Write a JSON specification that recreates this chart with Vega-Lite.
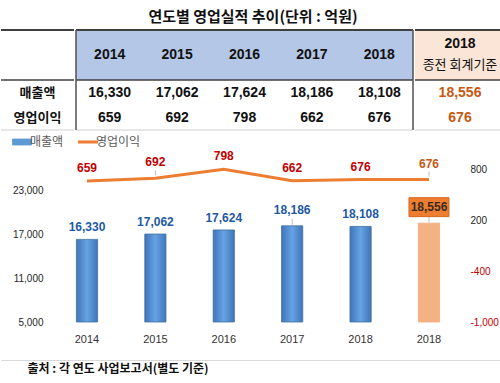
{
  "$schema": "https://vega.github.io/schema/vega-lite/v6.json",
  "background": "white",
  "padding": {"left": 0, "right": 0, "top": 10, "bottom": 0},
  "config": {
    "view": {"stroke": null},
    "font": "Liberation Sans, Noto Sans CJK KR",
    "axis": {"grid": false, "labelFont": "Liberation Sans, Noto Sans CJK KR"}
  },
  "title": {"text": "연도별 영업실적 추이(단위 : 억원)", "font": "Noto Sans CJK KR", "fontSize": 15, "fontWeight": "bold", "color": "#111111", "anchor": "middle", "offset": 4},
  "datasets": {
    "perf": [
      {"cat": "2014", "sales": 16330, "op": 659},
      {"cat": "2015", "sales": 17062, "op": 692},
      {"cat": "2016", "sales": 17624, "op": 798},
      {"cat": "2017", "sales": 18186, "op": 662},
      {"cat": "2018", "sales": 18108, "op": 676},
      {"cat": "2018 종전", "sales": 18556, "op": 676}
    ],
    "rowLabels": [{"row": "r1", "label": "매출액"}, {"row": "r2", "label": "영업이익"}],
    "headerRows": [{"row": "h1"}, {"row": "h2"}],
    "one": [{"id": 1}]
  },
  "columns": 1,
  "align": "none",
  "spacing": 5,
  "resolve": {"legend": {"color": "independent"}},
  "concat": [
    {
      "spacing": 0,
      "hconcat": [
        {
          "width": 73, "height": 100,
          "layer": [
            {"data": {"name": "rowLabels"}, "mark": {"type": "text", "font": "Noto Sans CJK KR", "fontSize": 13, "fontWeight": "bold", "color": "#111111"},
             "encoding": {"y": {"field": "row", "type": "nominal", "scale": {"type": "band", "domain": ["h1", "h2", "r1", "r2"], "paddingInner": 0, "paddingOuter": 0}, "axis": null}, "text": {"field": "label"}}},
            {"data": {"name": "one"}, "mark": {"type": "rule", "color": "#404040", "strokeWidth": 2}, "encoding": {"y": {"datum": "h1", "type": "nominal", "bandPosition": 0}}},
            {"data": {"name": "one"}, "mark": {"type": "rule", "color": "#404040", "strokeWidth": 1.5}, "encoding": {"y": {"datum": "r1", "type": "nominal", "bandPosition": 0}}},
            {"data": {"name": "one"}, "mark": {"type": "rule", "color": "#d0d0d0", "strokeWidth": 1}, "encoding": {"y": {"datum": "r2", "type": "nominal", "bandPosition": 1}}}
          ]
        },
        {
          "width": 337, "height": 100,
          "layer": [
            {"data": {"name": "headerRows"}, "mark": {"type": "rect", "color": "#b4c7e7"},
             "encoding": {"y": {"field": "row", "type": "nominal", "scale": {"type": "band", "domain": ["h1", "h2", "r1", "r2"], "paddingInner": 0, "paddingOuter": 0}, "axis": null}}},
            {"data": {"name": "perf"}, "transform": [{"filter": "datum.cat !== '2018 종전'"}],
             "encoding": {"x": {"field": "cat", "type": "nominal", "scale": {"type": "band", "domain": ["2014", "2015", "2016", "2017", "2018"], "paddingInner": 0, "paddingOuter": 0}, "axis": null}},
             "layer": [
               {"mark": {"type": "text", "fontSize": 14, "fontWeight": "bold", "color": "#111111"}, "encoding": {"y": {"datum": "h1", "type": "nominal", "bandPosition": 1}, "text": {"field": "cat"}}},
               {"mark": {"type": "text", "fontSize": 14, "fontWeight": "bold", "color": "#111111"}, "encoding": {"y": {"datum": "r1", "type": "nominal", "bandPosition": 0.5}, "text": {"field": "sales", "format": ","}}},
               {"mark": {"type": "text", "fontSize": 14, "fontWeight": "bold", "color": "#111111"}, "encoding": {"y": {"datum": "r2", "type": "nominal", "bandPosition": 0.5}, "text": {"field": "op", "format": ","}}}
             ]},
            {"data": {"name": "one"}, "mark": {"type": "rule", "color": "#404040", "strokeWidth": 2}, "encoding": {"y": {"datum": "h1", "type": "nominal", "bandPosition": 0}}},
            {"data": {"name": "one"}, "mark": {"type": "rule", "color": "#404040", "strokeWidth": 1.5}, "encoding": {"y": {"datum": "r1", "type": "nominal", "bandPosition": 0}}},
            {"data": {"name": "one"}, "mark": {"type": "rule", "color": "#d0d0d0", "strokeWidth": 1}, "encoding": {"y": {"datum": "r2", "type": "nominal", "bandPosition": 1}}},
            {"data": {"name": "one"}, "mark": {"type": "rule", "color": "#505050", "strokeWidth": 1.5}, "encoding": {"x": {"datum": "2014", "type": "nominal", "bandPosition": 0}}},
            {"data": {"name": "one"}, "mark": {"type": "rule", "color": "#505050", "strokeWidth": 1.5}, "encoding": {"x": {"datum": "2018", "type": "nominal", "bandPosition": 1}}}
          ]
        },
        {
          "width": 90, "height": 100,
          "layer": [
            {"data": {"name": "headerRows"}, "mark": {"type": "rect", "color": "#fbe5d6"},
             "encoding": {"y": {"field": "row", "type": "nominal", "scale": {"type": "band", "domain": ["h1", "h2", "r1", "r2"], "paddingInner": 0, "paddingOuter": 0}, "axis": null}}},
            {"data": {"name": "perf"}, "transform": [{"filter": "datum.cat === '2018 종전'"}],
             "layer": [
               {"mark": {"type": "text", "fontSize": 14, "fontWeight": "bold", "color": "#111111", "yOffset": 1}, "encoding": {"y": {"datum": "h1", "type": "nominal", "bandPosition": 0.5}, "text": {"value": "2018"}}},
               {"mark": {"type": "text", "font": "Noto Sans CJK KR", "fontSize": 13, "fontWeight": "normal", "color": "#111111", "yOffset": -3}, "encoding": {"y": {"datum": "h2", "type": "nominal", "bandPosition": 0.5}, "text": {"value": "종전 회계기준"}}},
               {"mark": {"type": "text", "fontSize": 14, "fontWeight": "bold", "color": "#c55a11"}, "encoding": {"y": {"datum": "r1", "type": "nominal", "bandPosition": 0.5}, "text": {"field": "sales", "format": ","}}},
               {"mark": {"type": "text", "fontSize": 14, "fontWeight": "bold", "color": "#c55a11"}, "encoding": {"y": {"datum": "r2", "type": "nominal", "bandPosition": 0.5}, "text": {"field": "op", "format": ","}}}
             ]},
            {"data": {"name": "one"}, "mark": {"type": "rule", "color": "#404040", "strokeWidth": 2}, "encoding": {"y": {"datum": "h1", "type": "nominal", "bandPosition": 0}}},
            {"data": {"name": "one"}, "mark": {"type": "rule", "color": "#404040", "strokeWidth": 1.5}, "encoding": {"y": {"datum": "r1", "type": "nominal", "bandPosition": 0}}},
            {"data": {"name": "one"}, "mark": {"type": "rule", "color": "#d0d0d0", "strokeWidth": 1}, "encoding": {"y": {"datum": "r2", "type": "nominal", "bandPosition": 1}}}
          ]
        }
      ]
    },
    {
      "spacing": 9,
      "vconcat": [
        {
          "width": 500, "height": 175,
          "data": {"name": "perf"},
          "encoding": {
            "x": {"field": "cat", "type": "nominal",
                  "scale": {"domain": ["2014", "2015", "2016", "2017", "2018", "2018 종전"], "paddingInner": 0.69, "paddingOuter": 1.0395, "align": 0.551},
                  "axis": {"title": null, "labelExpr": "slice(datum.label, 0, 4)", "labelAngle": 0, "labelFontSize": 11, "labelColor": "#333333", "labelPadding": 11, "ticks": false, "domain": false, "minExtent": 28}}
          },
          "layer": [
            {
              "encoding": {
                "y": {"field": "sales", "type": "quantitative",
                      "scale": {"domain": [5000, 29000], "nice": false, "zero": false},
                      "axis": {"orient": "left", "offset": -54, "title": null, "values": [5000, 11000, 17000, 23000], "labelExpr": "format(datum.value, ',.0f')", "labelFontSize": 10, "labelColor": "#262626", "ticks": false, "domain": false, "grid": false, "labelPadding": 12}}
              },
              "layer": [
                {"data": {"name": "one"}, "mark": {"type": "rule", "color": "#d9d9d9", "strokeWidth": 1},
                 "encoding": {"y": {"datum": 5000}, "x": {"datum": "2014", "bandPosition": -1.31}, "x2": {"datum": "2018 종전", "bandPosition": 2.1}}},
                {"mark": {"type": "bar", "strokeWidth": 0.8},
                 "encoding": {
                   "y2": {"datum": 5000},
                   "fill": {"condition": {"test": "datum.cat === '2018 종전'", "value": "#f4b183"},
                            "value": {"gradient": "linear", "x1": 0, "x2": 1, "y1": 0, "y2": 0,
                                      "stops": [{"offset": 0, "color": "#3f76b9"}, {"offset": 0.5, "color": "#66a3e3"}, {"offset": 1, "color": "#3f76b9"}]}},
                   "stroke": {"condition": {"test": "datum.cat === '2018 종전'", "value": "#f0aa7a"}, "value": "#41719c"}
                 }},
                {"transform": [{"filter": "datum.cat === '2017' || datum.cat === '2018 종전'"}],
                 "mark": {"type": "rule", "color": "#bfbfbf", "strokeWidth": 1, "yOffset": -1, "y2Offset": -7},
                 "encoding": {"y2": {"field": "sales"}}},
                {"transform": [{"filter": "datum.cat === '2018 종전'"}],
                 "mark": {"type": "point", "shape": "M-1,-0.475H1V0.475H-1Z", "size": 1600, "filled": true, "color": "#ed7d31", "stroke": "#d5691f", "strokeWidth": 1, "opacity": 1, "yOffset": -16}},
                {"transform": [{"filter": "datum.cat !== '2017' && datum.cat !== '2018 종전'"}],
                 "mark": {"type": "text", "fontSize": 12, "fontWeight": "bold", "color": "#1e5aa0", "baseline": "middle", "yOffset": -12},
                 "encoding": {"text": {"field": "sales", "format": ","}}},
                {"transform": [{"filter": "datum.cat === '2017'"}],
                 "mark": {"type": "text", "fontSize": 12, "fontWeight": "bold", "color": "#1e5aa0", "baseline": "middle", "yOffset": -16},
                 "encoding": {"text": {"field": "sales", "format": ","}}},
                {"transform": [{"filter": "datum.cat === '2018 종전'"}],
                 "mark": {"type": "text", "fontSize": 12, "fontWeight": "bold", "color": "#3a2a1e", "baseline": "middle", "yOffset": -16},
                 "encoding": {"text": {"field": "sales", "format": ","}}}
              ]
            },
            {
              "encoding": {
                "y": {"field": "op", "type": "quantitative",
                      "scale": {"domain": [-1000, 1060], "nice": false, "zero": false},
                      "axis": {"orient": "right", "offset": -40, "title": null, "values": [-1000, -400, 200, 800], "labelExpr": "replace(format(datum.value, ',.0f'), '−', '-')", "labelFontSize": 10,
                               "labelColor": {"condition": {"test": "datum.value < 0", "value": "#c00000"}, "value": "#262626"},
                               "ticks": false, "domain": false, "grid": false, "labelPadding": 9}}
              },
              "layer": [
                {"mark": {"type": "line", "strokeWidth": 3},
                 "encoding": {
                   "color": {"datum": "영업이익", "type": "nominal",
                             "scale": {"domain": ["매출액", "영업이익"], "range": ["#5b9bd5", "#ed7d31"]},
                             "legend": {"title": null, "orient": "none", "legendX": 15, "legendY": -11, "direction": "horizontal", "padding": 0,
                                        "symbolSize": 400, "labelFontSize": 12, "labelColor": "#595959", "labelFont": "Noto Sans CJK KR", "labelOffset": 2, "columnPadding": 8,
                                        "encode": {"symbols": {"update": {
                                          "shape": {"signal": "datum.value === '매출액' ? 'M-0.95,-0.3H0.95V0.3H-0.95Z' : 'M-1,0H1'"},
                                          "fill": {"signal": "datum.value === '매출액' ? '#5b9bd5' : 'transparent'"},
                                          "stroke": {"signal": "datum.value === '매출액' ? '#41719c' : '#ed7d31'"},
                                          "strokeWidth": {"signal": "datum.value === '매출액' ? 0.8 : 3"},
                                          "opacity": {"value": 1}
                                        }}}}
                   }
                 }},
                {"transform": [{"filter": "datum.cat === '2015' || datum.cat === '2018 종전'"}],
                 "mark": {"type": "rule", "color": "#bfbfbf", "strokeWidth": 1, "yOffset": -3, "y2Offset": -8},
                 "encoding": {"y2": {"field": "op"}}},
                {"transform": [{"filter": "datum.cat !== '2015' && datum.cat !== '2018 종전'"}],
                 "mark": {"type": "text", "fontSize": 12, "fontWeight": "bold", "color": "#c00000", "baseline": "middle", "yOffset": -13},
                 "encoding": {"text": {"field": "op"}}},
                {"transform": [{"filter": "datum.cat === '2015'"}],
                 "mark": {"type": "text", "fontSize": 12, "fontWeight": "bold", "color": "#c00000", "baseline": "middle", "yOffset": -16},
                 "encoding": {"text": {"field": "op"}}},
                {"transform": [{"filter": "datum.cat === '2018 종전'"}],
                 "mark": {"type": "text", "fontSize": 12, "fontWeight": "bold", "color": "#c55a11", "baseline": "middle", "yOffset": -16},
                 "encoding": {"text": {"field": "op"}}}
              ]
            }
          ],
          "resolve": {"scale": {"y": "independent"}}
        },
        {
          "width": 500, "height": 0.001,
          "view": {"stroke": "#d9d9d9", "strokeWidth": 1},
          "data": {"name": "one"},
          "mark": {"type": "rule", "opacity": 0, "strokeOpacity": 0},
          "encoding": {},
          "title": {"text": "출처 : 각 연도 사업보고서(별도 기준)", "orient": "bottom", "anchor": "start", "dx": 27, "offset": 3, "font": "Noto Sans CJK KR", "fontSize": 12, "fontWeight": "bold", "color": "#111111"}
        }
      ]
    }
  ]
}
